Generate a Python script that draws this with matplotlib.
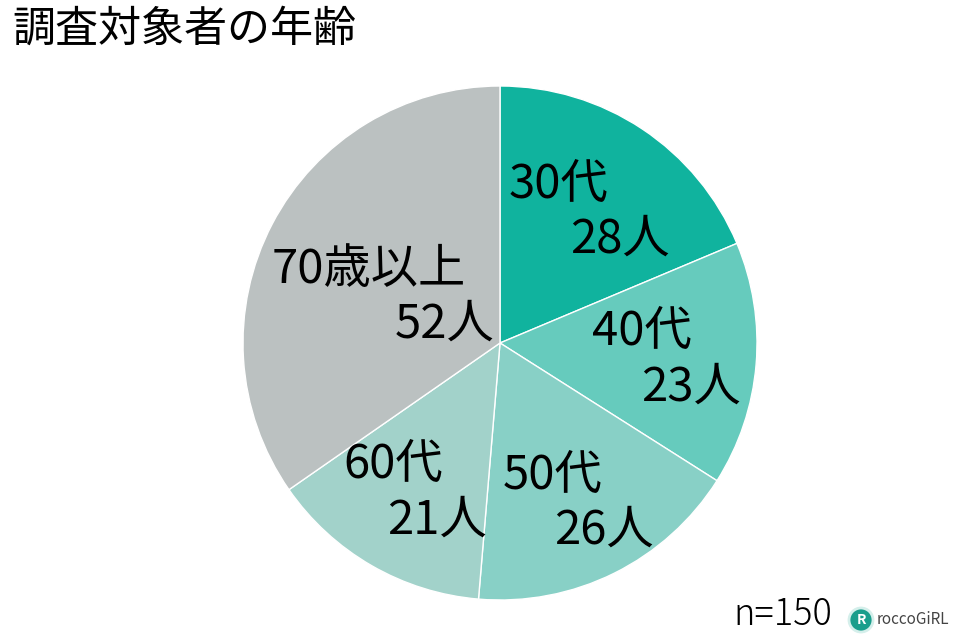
import matplotlib
matplotlib.use("Agg")
import matplotlib.pyplot as plt
import numpy as np
from matplotlib.patches import Ellipse

plt.rcParams['font.family'] = ['Noto Sans CJK JP', 'DejaVu Sans']

# dati
categorie = ["30代", "40代", "50代", "60代", "70歳以上"]
persone = [28, 23, 26, 21, 52]
colori = ["#10b39e", "#66cbbd", "#88d0c6", "#a2d2ca", "#bbc1c1"]
titolo = "調査対象者の年齢"
nota = "n=150"

# posizione etichette (raggio relativo, spostamento orizzontale delle righe)
raggi_etichetta = [0.625, 0.65, 0.685, 0.66, 0.41]
scarto_riga = [0.12, 0.097, 0.099, 0.084, 0.147]

fig = plt.figure(figsize=(9.6, 6.4), dpi=100)
ax = fig.add_axes([243 / 960, 40 / 640, 514 / 960, 514 / 640])

wedges, _ = ax.pie(persone, colors=colori, startangle=90, counterclock=False,
                   wedgeprops=dict(edgecolor="white", linewidth=1))
ax.set_xlim(-1, 1)
ax.set_ylim(-1, 1)
ax.set_aspect("equal")
ax.axis("off")

for w, cat, n, r, dx in zip(wedges, categorie, persone, raggi_etichetta, scarto_riga):
    theta = np.deg2rad((w.theta1 + w.theta2) / 2)
    cx, cy = r * np.cos(theta), r * np.sin(theta) - 0.01
    ax.text(cx - dx, cy + 0.107, cat, ha="center", va="center", fontsize=34)
    ax.text(cx + dx, cy - 0.107, f"{n}人", ha="center", va="center", fontsize=34)

fig.text(12 / 960, 1 - 8 / 640, titolo, ha="left", va="top", fontsize=31)
fig.text(832 / 960, 6 / 640, nota, ha="right", va="bottom", fontsize=26,
         fontweight="light")

# logo
fig.add_artist(Ellipse((861 / 960, 20 / 640), 24 / 960, 24 / 640,
                       transform=fig.transFigure, facecolor="#1a9e8c",
                       edgecolor="#d5efeb", linewidth=2))
fig.text(861 / 960, 20 / 640, "R", ha="center", va="center", fontsize=10,
         color="white", fontweight="bold")
fig.text(877 / 960, 20 / 640, "roccoGiRL", ha="left", va="center", fontsize=11,
         color="#444444")

fig.savefig("out.png", dpi=100)
